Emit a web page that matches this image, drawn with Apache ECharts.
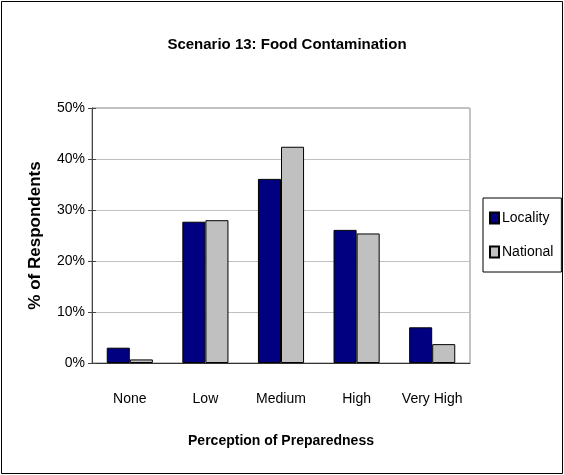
<!DOCTYPE html>
<html>
<head>
<meta charset="utf-8">
<script src="https://cdn.jsdelivr.net/npm/echarts@6/dist/echarts.min.js"></script>
<style>
  html, body { margin: 0; padding: 0; background: #fff; }
  #chart { width: 564px; height: 475px; }
</style>
</head>
<body>
<div id="chart"></div>
<script>
// categories and values (percent)
const categories = ['None', 'Low', 'Medium', 'High', 'Very High']
const locality = [3.0, 27.7, 36.1, 26.1, 7.0]
const national = [0.7, 28.0, 42.4, 25.4, 3.7]
const yTicks = [0, 10, 20, 30, 40, 50]

const font = '"Liberation Sans Narrow", "Liberation Sans", Arial, sans-serif'

const chart = echarts.init(document.getElementById('chart'))

const option = {
  animation: false,
  backgroundColor: '#fff',
  title: {
    text: 'Scenario 13: Food Contamination',
    left: 282,
    textAlign: 'center',
    top: 32,
    textStyle: { fontFamily: font, fontSize: 15, fontWeight: 'bold', color: '#000' }
  },
  legend: {
    orient: 'vertical',
    left: 483,
    top: 198,
    padding: [13, 8, 13, 6],
    itemGap: 20,
    itemWidth: 9,
    itemHeight: 11,
    borderColor: '#000',
    borderWidth: 1,
    textStyle: { fontFamily: font, fontSize: 14, color: '#000', padding: [0, 0, 0, -2] },
    data: [
      { name: 'Locality', icon: 'rect' },
      { name: 'National', icon: 'rect' }
    ]
  },
  grid: {
    left: 92, top: 108, right: 94, bottom: 112,
    show: true,
    borderColor: '#888',
    borderWidth: 1
  },
  xAxis: {
    type: 'category',
    data: categories,
    name: 'Perception of Preparedness',
    nameLocation: 'middle',
    nameGap: 71,
    nameTextStyle: { fontFamily: font, fontSize: 14, fontWeight: 'bold', color: '#000' },
    axisLine: { lineStyle: { color: '#333', width: 1 } },
    axisTick: { length: 5, lineStyle: { color: '#333' } },
    axisLabel: { interval: 0, fontFamily: font, fontSize: 14, color: '#000', margin: 29 }
  },
  yAxis: [
    {
      type: 'value',
      min: 0,
      max: 50,
      interval: 10,
      name: '% of Respondents',
      nameLocation: 'middle',
      nameGap: 48,
      nameTextStyle: { fontFamily: font, fontSize: 17, fontWeight: 'bold', color: '#000' },
      axisLine: { show: true, lineStyle: { color: '#444' } },
      axisTick: { show: true, length: 4, lineStyle: { color: '#444' } },
      axisLabel: {
        fontFamily: font, fontSize: 14, color: '#000', margin: 7,
        formatter: v => (yTicks.includes(v) ? v + '%' : '')
      },
      splitLine: { lineStyle: { color: '#c0c0c0' } }
    },
    {
      // second copy of the axis on the left, only for inside ticks
      type: 'value',
      position: 'left',
      min: 0,
      max: 50,
      interval: 10,
      axisLine: { show: false },
      axisTick: { show: true, inside: true, length: 4, lineStyle: { color: '#444' } },
      axisLabel: { show: false },
      splitLine: { show: false }
    }
  ],
  series: [
    {
      name: 'Locality',
      type: 'bar',
      data: locality,
      barGap: '0%',
      barCategoryGap: '39%',
      itemStyle: { color: '#000080', borderColor: '#000', borderWidth: 1 }
    },
    {
      name: 'National',
      type: 'bar',
      data: national,
      itemStyle: { color: '#c0c0c0', borderColor: '#000', borderWidth: 1 }
    }
  ],
  graphic: [
    {
      type: 'rect',
      shape: { x: 1.5, y: 1.5, width: 561, height: 472 },
      style: { fill: null, stroke: '#000', lineWidth: 1 },
      silent: true,
      z: 100
    }
  ]
}

chart.setOption(option)
</script>
</body>
</html>
